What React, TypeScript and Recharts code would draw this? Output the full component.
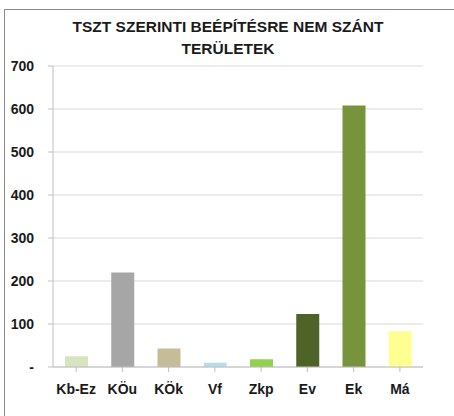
import { BarChart, Bar, XAxis, YAxis, CartesianGrid, Cell } from 'recharts';

const categories = ['Kb-Ez', 'KÖu', 'KÖk', 'Vf', 'Zkp', 'Ev', 'Ek', 'Má'];
const values = [25, 220, 43, 10, 18, 123, 608, 83];
const barColors = ['#d7e4bd', '#a6a6a6', '#c4bd97', '#b7dee8', '#92d050', '#4f6228', '#77933c', '#ffff91'];
const yTicks = [0, 100, 200, 300, 400, 500, 600, 700];

const data = categories.map((name, i) => ({ name, value: values[i] }));

const font = '"Liberation Sans", Arial, sans-serif';
const tickStyle = { fill: '#1a1a1a', fontSize: 14, fontWeight: 700, fontFamily: font };

export default function App() {
  return (
    <div style={{ position: 'absolute', left: 0, top: 0, width: 454, height: 416, background: '#fff' }}>
      <div
        style={{
          position: 'absolute',
          left: 4,
          top: 9,
          right: 0,
          bottom: 0,
          borderLeft: '1px solid #8c8c8c',
          borderTop: '1px solid #8c8c8c',
        }}
      />
      <div
        style={{
          position: 'absolute',
          left: 20,
          width: 416,
          top: 16,
          textAlign: 'center',
          fontFamily: font,
          fontWeight: 700,
          fontSize: 15.5,
          lineHeight: '22px',
          color: '#1a1a1a',
        }}
      >
        TSZT SZERINTI BEÉPÍTÉSRE NEM SZÁNT
        <br />
        TERÜLETEK
      </div>
      <BarChart
        width={454}
        height={416}
        data={data}
        margin={{ top: 66, right: 31, bottom: 19, left: 0 }}
        barSize={23}
      >
        <CartesianGrid vertical={false} stroke="#d9d9d9" />
        <XAxis
          dataKey="name"
          height={30}
          tick={tickStyle}
          tickSize={5}
          tickMargin={12}
          stroke="#bfbfbf"
          tickLine={{ stroke: '#bfbfbf' }}
          interval={0}
        />
        <YAxis
          width={53}
          domain={[0, 700]}
          ticks={yTicks}
          tick={tickStyle}
          tickSize={5}
          tickMargin={14}
          stroke="#bfbfbf"
          tickFormatter={(v) => (v === 0 ? '-' : String(v))}
        />
        <Bar dataKey="value" isAnimationActive={false}>
          {data.map((d, i) => (
            <Cell key={d.name} fill={barColors[i]} />
          ))}
        </Bar>
      </BarChart>
    </div>
  );
}
